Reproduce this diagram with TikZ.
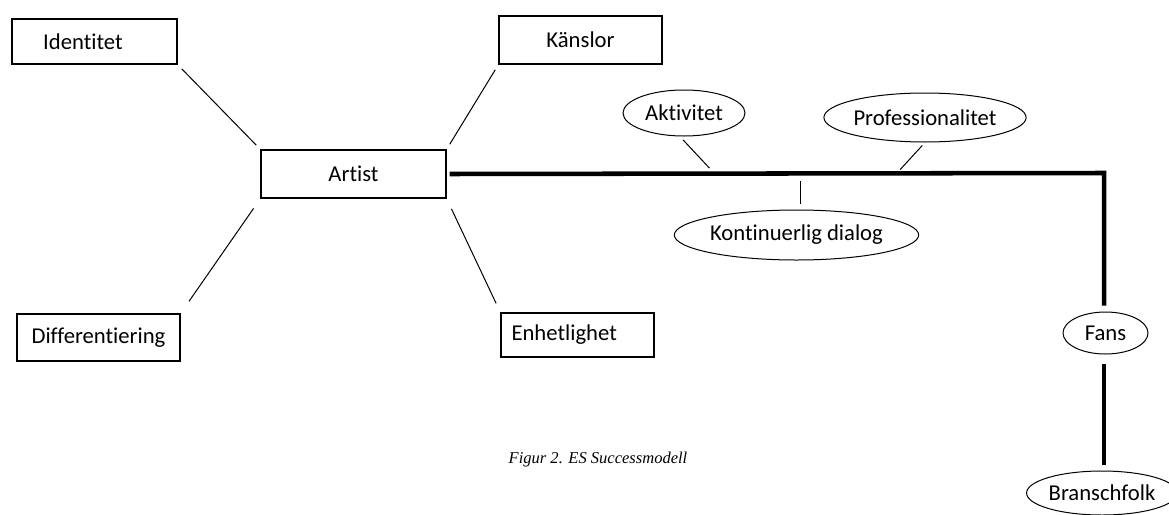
\documentclass[tikz,border=0pt]{standalone}
\usepackage{fontspec}
\setmainfont{Carlito}[Ligatures=NoCommon]
\newfontfamily\captionfont{Liberation Serif}
\usetikzlibrary{shapes.geometric}

\tikzset{
  box/.style={draw, line width=0.9pt, inner sep=0pt, font=\fontsize{17}{20}\selectfont},
  oval/.style={draw, ellipse, line width=0.75pt, inner sep=0pt, font=\fontsize{17}{20}\selectfont},
  thin link/.style={line width=0.75pt},
  thick link/.style={line width=3.4pt},
}

\begin{document}
\begin{tikzpicture}[x=0.75pt, y=-0.75pt]
  \useasboundingbox (0, 0) rectangle (1169, 514);

  % Artist and its four boxes
  \node[box, minimum width=138.75pt, minimum height=36pt] (artist) at (353.5, 174) {Artist};
  \node[box, minimum width=123.75pt, minimum height=33.75pt] (ident) at (94.5, 41.5)
    {\makebox[77pt][l]{Identitet}};
  \node[box, minimum width=122.25pt, minimum height=36pt] (kansl) at (580.5, 40) {Känslor};
  \node[box, minimum width=122.25pt, minimum height=35.25pt] (diff) at (98.5, 337.5) {Differentiering};
  \node[box, minimum width=114.75pt, minimum height=33pt] (enhet) at (577.5, 335)
    {\makebox[99pt][l]{Enhetlighet}};

  \draw[thin link, shorten <=4.5pt, shorten >=4.5pt] (ident.south east) -- (artist.north west);
  \draw[thin link, shorten <=4.5pt, shorten >=4.5pt] (kansl.south west) -- (artist.north east);
  \draw[thin link, shorten <=9pt, shorten >=11pt] (artist.south west) -- (diff.north east);
  \draw[thin link, shorten <=8.5pt, shorten >=7.5pt] (artist.south east) -- (enhet.north west);

  % Main line towards fans and branschfolk
  \node[oval, minimum width=63.75pt, minimum height=31.5pt] (fans) at (1105.5, 333) {Fans};
  \node[oval, minimum width=112pt, minimum height=33pt] (bransch) at (1102, 493) {Branschfolk};
  \coordinate (corner) at (1104, 173);
  \draw[thick link, shorten <=2.25pt, shorten >=4.5pt] (artist.east) -- (corner) -- (corner |- fans.north);
  \draw[thick link, shorten <=6.75pt, shorten >=4.5pt] (corner |- fans.south) -- (corner |- bransch.north);

  % Ovals along the line
  \node[oval, minimum width=91.5pt, minimum height=34.5pt] (aktiv) at (684, 113) {Aktivitet};
  \node[oval, minimum width=147pt, minimum height=36.75pt] (prof) at (925, 117.5) {Professionalitet};
  \node[oval, minimum width=158.25pt, minimum height=37.5pt] (dialog) at (796.5, 235) {Kontinuerlig dialog};
  \coordinate (aktiv foot) at (714, 173);
  \coordinate (prof foot) at (897, 173);
  \coordinate (dialog foot) at (800, 173);
  \draw[thin link, shorten <=3.5pt, shorten >=5pt] (aktiv.260) -- (aktiv foot);
  \draw[thin link, shorten <=3pt, shorten >=3.5pt] (prof.south) -- (prof foot);
  \draw[thin link, shorten <=6pt, shorten >=4.5pt] (dialog foot) -- (dialog foot |- dialog.north);

  % Caption
  \node[font=\captionfont\itshape\fontsize{12.4}{14}\selectfont] (caption) at (598, 460) {Figur 2. ES Successmodell};
\end{tikzpicture}
\end{document}
